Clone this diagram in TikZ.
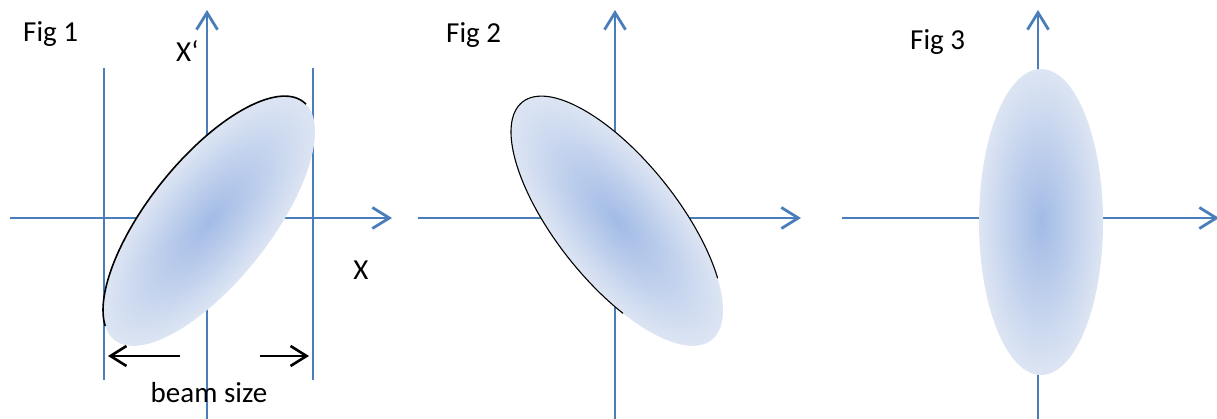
\documentclass[tikz,border=0pt]{standalone}
\usepackage{fontspec}
\setmainfont{Carlito}
\usetikzlibrary{arrows.meta}
\definecolor{AxisBlue}{HTML}{4A7EBB}
\definecolor{BeamCore}{HTML}{A2BBE6}
\definecolor{BeamEdge}{HTML}{DDE5F3}
\tikzset{
  axis/.style={AxisBlue,line width=2.8pt,-{Straight Barb[length=17pt,width=21pt]}},
  guide/.style={AxisBlue,line width=2.3pt},
  beam/.style={inner color=BeamCore,outer color=BeamEdge},
  rim/.style={black,line width=1.6pt},
  sizearrow/.style={black,line width=2.6pt,-{Straight Barb[length=16pt,width=20pt]}},
  lbl/.style={font=\fontsize{29}{32}\selectfont,inner sep=0pt}
}
\begin{document}
\begin{tikzpicture}[x=1pt,y=1pt]
  \useasboundingbox (0,0) rectangle (1217,419);
  % Fig 1
  \draw[axis] (207,0) -- (207,409);
  \draw[axis] (10,201) -- (392,201);
  \draw[guide] (104,39) -- (104,351); \draw[guide] (313,39) -- (313,351);
  \begin{scope}[transform canvas={shift={(209,198)},rotate=51.5}]
    \shade[beam] (0,0) ellipse (152 and 61);
    \draw[rim] (-3:152 and 61) arc[start angle=-3,end angle=165,x radius=152,y radius=61];
  \end{scope}
  \draw[sizearrow] (180,63) -- (108,63); \draw[sizearrow] (260,63) -- (309,63);
  \node[lbl] (size) at (209,26) {beam size};
  \node[lbl] (xlab) at (361,149) {X};
  \node[lbl,anchor=base west] (xplab) at (176,357) {X‘};
  \node[lbl,anchor=base west] (fig1) at (23,377) {Fig 1};
  % Fig 2
  \draw[axis] (615,0) -- (615,409);
  \draw[axis] (418,201) -- (801,201);
  \begin{scope}[transform canvas={shift={(617,198)},rotate=128.5}]
    \shade[beam] (0,0) ellipse (152 and 61);
    \draw[rim,line width=1.1pt] (-135:152 and 61) arc[start angle=-135,end angle=120,x radius=152,y radius=61];
  \end{scope}
  \node[lbl,anchor=base west] (fig2) at (446,376) {Fig 2};
  % Fig 3
  \draw[axis] (1038,0) -- (1038,409);
  \draw[axis] (842,201) -- (1219,201);
  \shade[beam] (1041,197) ellipse (62 and 153);
  \node[lbl,anchor=base west] (fig3) at (910,369) {Fig 3};
\end{tikzpicture}
\end{document}
